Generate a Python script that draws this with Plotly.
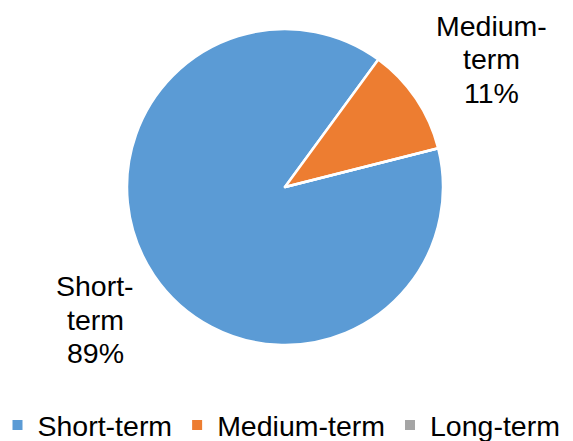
import plotly.graph_objects as go

categories = ["Short-term", "Medium-term", "Long-term"]
values = [89, 11, 0]
colors = ["#5B9BD5", "#ED7D31", "#A5A5A5"]

W, H = 573, 441
FONT = "Liberation Sans, Arial, sans-serif"
FS = 28.5

fig = go.Figure(go.Pie(
    labels=categories,
    values=values,
    sort=False,
    direction="clockwise",
    rotation=75.8,
    textinfo="none",
    hoverinfo="label+percent",
    marker=dict(colors=colors, line=dict(color="white", width=2.5)),
    domain=dict(x=[(285 - 158) / W, (285 + 158) / W],
                y=[(H - 187 - 158) / H, (H - 187 + 158) / H]),
))

total = sum(values)
# label anchor (x centre, y of first line centre) in pixels
label_pos = {"Short-term": (95, 286), "Medium-term": (491, 26)}
LINE = 33.5
for cat, v in zip(categories, values):
    if v == 0 or cat not in label_pos:
        continue
    px, py = label_pos[cat]
    pct = round(100 * v / total)
    head, tail = cat.split("-")
    lines = [head + "-", tail, f"{pct}%"]
    for i, ln in enumerate(lines):
        fig.add_annotation(
            x=px / W, y=1 - (py + i * LINE) / H, xref="paper", yref="paper",
            xanchor="center", yanchor="middle", text=ln, showarrow=False,
            font=dict(family=FONT, size=FS, color="#000000"),
        )

fig.update_layout(
    width=W, height=H,
    margin=dict(l=0, r=0, t=0, b=0, autoexpand=False),
    paper_bgcolor="white", plot_bgcolor="white",
    font=dict(family=FONT, size=FS, color="#000000"),
    showlegend=True,
    legend=dict(orientation="h", x=0.5 - 5 / W, xanchor="center",
                y=-10 / H, yanchor="bottom",
                font=dict(family=FONT, size=FS), itemsizing="constant",
                traceorder="normal"),
)

fig.write_html("out.html", config={"displayModeBar": False},
               post_script="document.body.style.margin='0';document.body.style.padding='0';")
